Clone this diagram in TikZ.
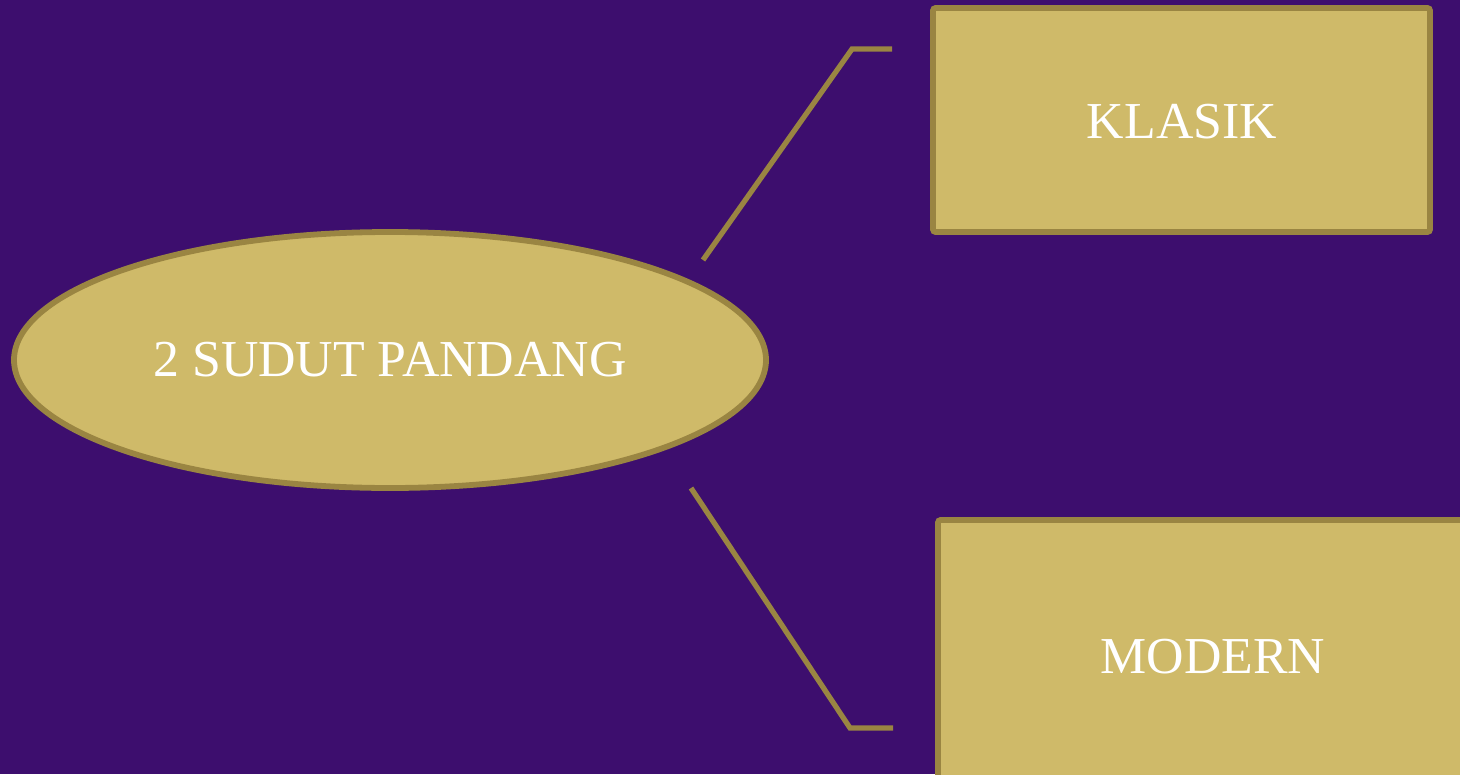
\documentclass[tikz,border=0pt]{standalone}
\usepackage{fontspec}
\setmainfont{Liberation Serif}
\usetikzlibrary{shapes.geometric}
\definecolor{bgpurple}{HTML}{3D0E6E}
\definecolor{goldfill}{HTML}{CFBA69}
\definecolor{goldline}{HTML}{9A8542}
\tikzset{
  goldshape/.style={fill=goldfill, draw=goldline, line width=3.3pt, rounded corners=1.5pt},
  link/.style={draw=goldline, line width=3pt},
  lbl/.style={text=white, font=\fontsize{29.5}{34}\selectfont},
}
\begin{document}
\begin{tikzpicture}[x=0.02cm, y=-0.02cm]
\fill[bgpurple] (0,0) rectangle (1460,774);
\useasboundingbox (0,0) rectangle (1460,774);
\node[goldshape, ellipse, minimum width=752*0.02cm, minimum height=256*0.02cm, inner sep=0pt] (main) at (390,360) {};
\node[lbl] (maintext) at (390,360) {2 SUDUT PANDANG};
\node[goldshape, rectangle, minimum width=497*0.02cm, minimum height=224*0.02cm, inner sep=0pt] (klasik) at (1181.5,120) {};
\node[lbl] (klasiktext) at (1182,122) {KLASIK};
\node[goldshape, rectangle, minimum width=560*0.02cm, minimum height=300*0.02cm, inner sep=0pt] (modern) at (1218,670) {};
\node[lbl] (moderntext) at (1213,657) {MODERN};
\coordinate (a1) at (703,260);
\coordinate (a2) at (852,49);
\coordinate (a3) at (892,49);
\coordinate (b1) at (691,488);
\coordinate (b2) at (850,728);
\coordinate (b3) at (893,728);
\draw[link] (a1) -- (a2) -- (a3);
\draw[link] (b1) -- (b2) -- (b3);
\end{tikzpicture}
\end{document}
